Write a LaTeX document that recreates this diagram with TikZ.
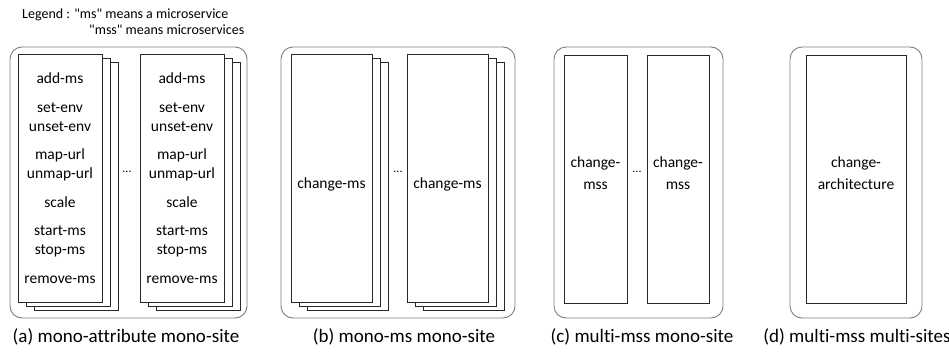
\documentclass[tikz,border=0pt]{standalone}
\usepackage{fontspec}
\setmainfont{Carlito}[Ligatures={TeXOff,NoCommon}]
\usepackage{tikz}
\usetikzlibrary{positioning,shadows}
\definecolor{panelgray}{RGB}{125,125,125}
\definecolor{sheetline}{RGB}{40,40,40}
\newcommand{\bodysize}{\fontsize{15.5}{19}\selectfont}
\newcommand{\capsize}{\fontsize{19}{22}\selectfont}
\newcommand{\legsize}{\fontsize{14}{16}\selectfont}
\newcommand{\dotsize}{\fontsize{12}{14}\selectfont}

\begin{document}
\begin{tikzpicture}[x=1pt, y=-1pt]
    \tikzstyle{panel} = [rectangle, rounded corners=12pt, draw=panelgray, line width=0.9pt, minimum height=271pt]
    \tikzstyle{sheet} = [rectangle, draw=sheetline, fill=white, line width=0.8pt, minimum height=248pt, inner sep=2pt, text centered, align=center, font=\bodysize]
    \tikzstyle{stack} = [sheet, copy shadow={shadow xshift=16pt, shadow yshift=-8pt, draw=sheetline, fill=white}, copy shadow={shadow xshift=8pt, shadow yshift=-4pt, draw=sheetline, fill=white}]
    \tikzstyle{lowtext} = [text height=22pt]
    \tikzstyle{caption} = [font=\capsize, node distance=154.5pt]
    \tikzstyle{dots} = [font=\dotsize]

    \useasboundingbox (0,0) rectangle (949,351);

    % legend
    \node [anchor=west, align=left, inner sep=0pt, font=\legsize] (legend) at (22,22)
        {Legend : "ms" means a microservice\\\hspace*{67pt}"mss" means microservices};

    % panels
    \node [panel, minimum width=237pt] (fa) at (128.5,182.5) {};
    \node [panel, minimum width=234pt] (fb) at (398,182.5) {};
    \node [panel, minimum width=169pt] (fc) at (638.5,182.5) {};
    \node [panel, minimum width=132pt] (fd) at (856,182.5) {};

    % (a) mono-attribute mono-site
    \node [stack, minimum width=84pt] (a1) at (60,178) {add-ms\\[9.5pt] set-env\\unset-env\\[9.5pt] map-url\\unmap-url\\[9.5pt] scale\\[9.5pt] start-ms\\stop-ms\\[9.5pt] remove-ms};
    \node [stack, minimum width=84pt] (a2) at (182,178) {add-ms\\[9.5pt] set-env\\unset-env\\[9.5pt] map-url\\unmap-url\\[9.5pt] scale\\[9.5pt] start-ms\\stop-ms\\[9.5pt] remove-ms};
    \node [dots] (adots) at (127,172) {...};

    % (b) mono-ms mono-site
    \node [stack, lowtext, minimum width=81pt] (b1) at (331.5,178.5) {change-ms};
    \node [stack, lowtext, minimum width=81pt] (b2) at (447.5,178.5) {change-ms};
    \node [dots] (bdots) at (398,172) {...};

    % (c) multi-mss mono-site
    \node [sheet, lowtext, minimum width=63pt] (c1) at (595.5,179) {change-\\[3pt]mss};
    \node [sheet, lowtext, minimum width=62pt] (c2) at (678,179) {change-\\[3pt]mss};
    \node [dots] (cdots) at (637,172) {...};

    % (d) multi-mss multi-sites
    \node [sheet, lowtext, minimum width=100pt] (d1) at (856,179) {change-\\[3pt]architecture};

    % captions
    \node [caption, below of=fa, xshift=-2.5pt] (ca) {(a) mono-attribute mono-site};
    \node [caption, below of=fb, xshift=6pt] (cb) {(b) mono-ms mono-site};
    \node [caption, below of=fc, xshift=3.5pt] (cc) {(c) multi-mss mono-site};
    \node [caption, below of=fd, xshift=1pt] (cd) {(d) multi-mss multi-sites};
\end{tikzpicture}
\end{document}
